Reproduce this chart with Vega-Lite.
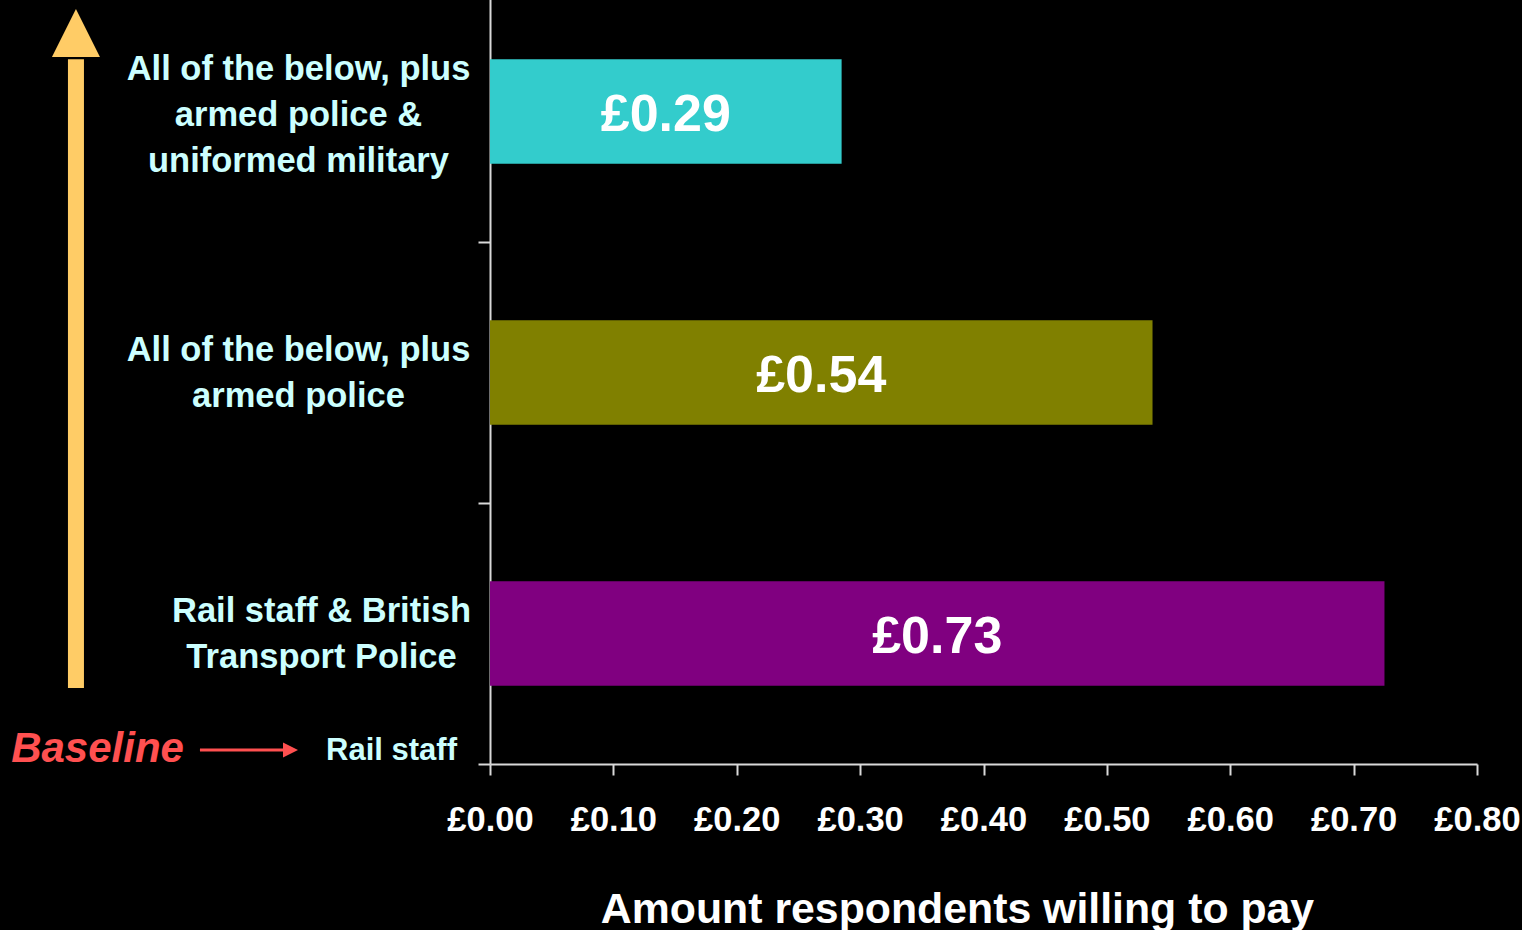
{
  "$schema": "https://vega.github.io/schema/vega-lite/v6.json",
  "autosize": {"type": "none"},
  "width": 987,
  "height": 783,
  "padding": {"left": 490, "top": -19, "right": 45, "bottom": 166},
  "background": "#000000",
  "config": {"view": {"stroke": null}, "font": "Liberation Sans"},
  "data": {"values": [
    {"group": "All of the below, plus|armed police &|uniformed military", "value": 0.285, "label": "£0.29"},
    {"group": "All of the below, plus|armed police", "value": 0.537, "label": "£0.54"},
    {"group": "Rail staff & British|Transport Police", "value": 0.725, "label": "£0.73"}
  ]},
  "resolve": {"scale": {"x": "independent", "y": "independent"}},
  "layer": [
    {
      "mark": {"type": "bar", "height": {"band": 0.4}},
      "encoding": {
        "y": {
          "field": "group", "type": "nominal",
          "scale": {"domain": ["All of the below, plus|armed police &|uniformed military", "All of the below, plus|armed police", "Rail staff & British|Transport Police"], "paddingInner": 0, "paddingOuter": 0},
          "axis": {
            "orient": "left",
            "title": null, "grid": false,
            "domainColor": "#D9D9D9", "domainWidth": 2,
            "tickBand": "extent", "tickSize": 12, "tickColor": "#D9D9D9", "tickWidth": 2,
            "labelExpr": "isString(datum.label) ? split(datum.label, '|') : ''",
            "labelFontSize": 34.5, "labelFontWeight": "bold", "labelColor": "#CCFFFF",
            "labelAlign": "center", "labelBaseline": "middle", "labelLineHeight": 46,
            "labelLimit": 0, "labelOverlap": false, "labelBound": false,
            "labelOffset": {"condition": {"test": "isString(datum.value) && indexof(datum.value, 'military') > 0", "value": -42}, "value": -22},
            "labelPadding": {"condition": {"test": "isString(datum.value) && indexof(datum.value, 'Rail') === 0", "value": 157}, "value": 180}
          }
        },
        "x": {
          "field": "value", "type": "quantitative",
          "scale": {"domain": [0, 0.8], "nice": false},
          "axis": {
            "orient": "bottom",
            "title": "Amount respondents willing to pay",
            "values": [0, 0.1, 0.2, 0.3, 0.4, 0.5, 0.6, 0.7, 0.8],
            "labelExpr": "'£' + format(datum.value, '.2f')",
            "labelFontSize": 34.5, "labelFontWeight": "bold", "labelColor": "#FFFFFF",
            "labelPadding": 28, "labelFlush": false, "labelOverlap": false,
            "tickSize": 11, "tickColor": "#D9D9D9", "tickWidth": 2,
            "domainColor": "#D9D9D9", "domainWidth": 2, "grid": false,
            "titleFontSize": 42.8, "titleFontWeight": "bold", "titleColor": "#FFFFFF",
            "titleX": 467, "titleY": 158, "titleBaseline": "alphabetic", "titleAlign": "center"
          }
        },
        "color": {
          "field": "group", "type": "nominal",
          "scale": {"domain": ["All of the below, plus|armed police &|uniformed military", "All of the below, plus|armed police", "Rail staff & British|Transport Police"], "range": ["#33CCCC", "#808000", "#800080"]},
          "legend": null
        }
      }
    },
    {
      "mark": {"type": "text", "fontSize": 52, "fontWeight": "bold", "color": "#FFFFFF", "align": "center", "baseline": "middle", "dy": 3},
      "encoding": {
        "y": {
          "field": "group", "type": "nominal",
          "scale": {"domain": ["All of the below, plus|armed police &|uniformed military", "All of the below, plus|armed police", "Rail staff & British|Transport Police"], "paddingInner": 0, "paddingOuter": 0},
          "axis": null
        },
        "x": {"field": "value", "type": "quantitative", "scale": {"domain": [0, 1.6], "nice": false}, "axis": null},
        "text": {"field": "label"}
      }
    },
    {
      "data": {"values": [{}]},
      "mark": {"type": "rule", "color": "#FFCC66", "strokeWidth": 16, "strokeCap": "butt"},
      "encoding": {
        "x": {"datum": -0.3356, "type": "quantitative", "scale": {"domain": [0, 0.8], "nice": false}, "axis": null},
        "y": {"datum": 0.2912, "type": "quantitative", "scale": {"domain": [0, 3], "nice": false, "zero": false}, "axis": null},
        "y2": {"datum": 2.7}
      }
    },
    {
      "data": {"values": [{}]},
      "mark": {"type": "point", "shape": "M0,-1L1,1L-1,1Z", "size": 2304, "filled": true, "opacity": 1, "color": "#FFCC66", "strokeWidth": 0},
      "encoding": {
        "x": {"datum": -0.3356, "type": "quantitative", "scale": {"domain": [0, 0.8], "nice": false}, "axis": null},
        "y": {"datum": 2.8008, "type": "quantitative", "scale": {"domain": [0, 3], "nice": false, "zero": false}, "axis": null}
      }
    },
    {
      "data": {"values": [{}]},
      "mark": {"type": "text", "text": "Baseline", "fontSize": 42, "fontWeight": "bold", "fontStyle": "italic", "color": "#FF5050", "align": "center", "baseline": "middle"},
      "encoding": {
        "x": {"datum": -0.3181, "type": "quantitative", "scale": {"domain": [0, 0.8], "nice": false}, "axis": null},
        "y": {"datum": 0.0575, "type": "quantitative", "scale": {"domain": [0, 3], "nice": false, "zero": false}, "axis": null}
      }
    },
    {
      "data": {"values": [{}]},
      "mark": {"type": "rule", "color": "#FF5050", "strokeWidth": 3},
      "encoding": {
        "x": {"datum": -0.2351, "type": "quantitative", "scale": {"domain": [0, 0.8], "nice": false}, "axis": null},
        "x2": {"datum": -0.1662},
        "y": {"datum": 0.0536, "type": "quantitative", "scale": {"domain": [0, 3], "nice": false, "zero": false}, "axis": null}
      }
    },
    {
      "data": {"values": [{}]},
      "mark": {"type": "point", "shape": "M-1,-1L1,0L-1,1Z", "size": 225, "filled": true, "opacity": 1, "color": "#FF5050", "strokeWidth": 0},
      "encoding": {
        "x": {"datum": -0.1617, "type": "quantitative", "scale": {"domain": [0, 0.8], "nice": false}, "axis": null},
        "y": {"datum": 0.0536, "type": "quantitative", "scale": {"domain": [0, 3], "nice": false, "zero": false}, "axis": null}
      }
    },
    {
      "data": {"values": [{}]},
      "mark": {"type": "text", "text": "Rail staff", "fontSize": 31, "fontWeight": "bold", "color": "#CCFFFF", "align": "center", "baseline": "middle"},
      "encoding": {
        "x": {"datum": -0.0798, "type": "quantitative", "scale": {"domain": [0, 0.8], "nice": false}, "axis": null},
        "y": {"datum": 0.051, "type": "quantitative", "scale": {"domain": [0, 3], "nice": false, "zero": false}, "axis": null}
      }
    }
  ]
}
